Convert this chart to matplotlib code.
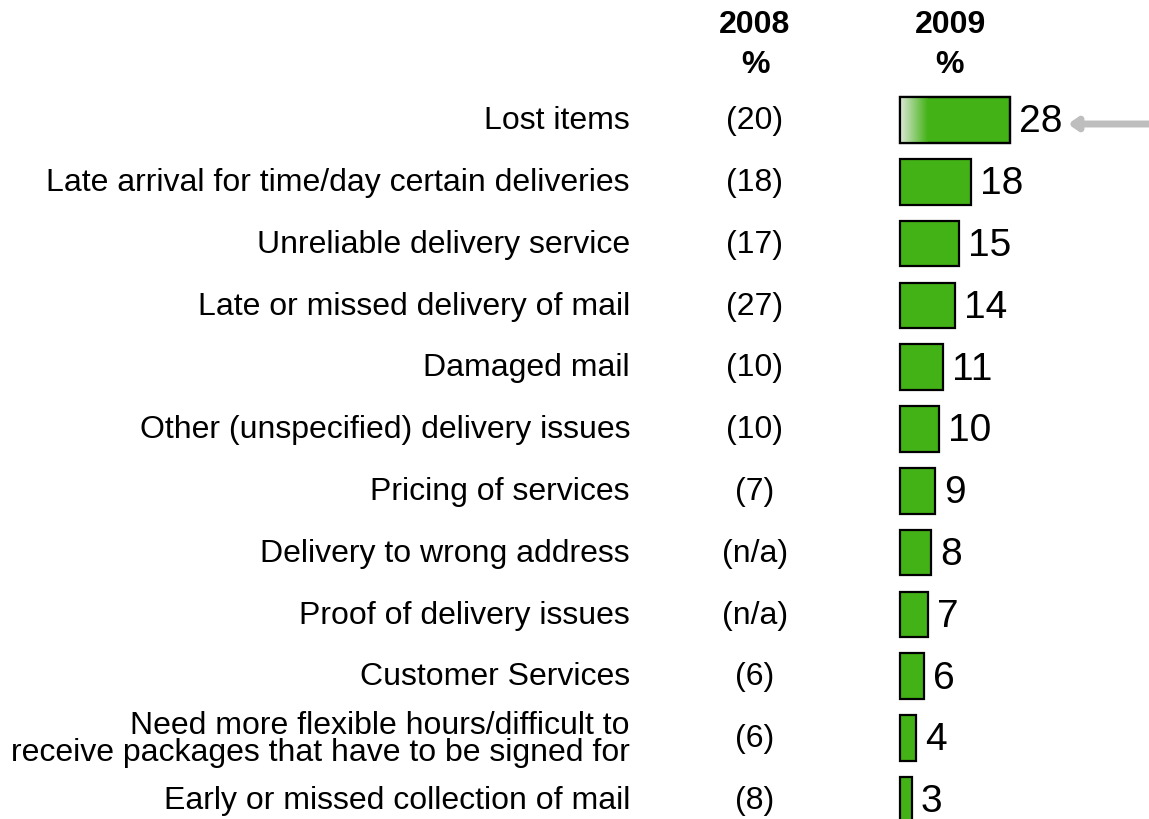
import matplotlib
matplotlib.use("Agg")
import matplotlib.pyplot as plt
import numpy as np
from matplotlib.colors import LinearSegmentedColormap

plt.rcParams['font.family'] = ['Liberation Sans', 'DejaVu Sans']

categories = [
    "Lost items",
    "Late arrival for time/day certain deliveries",
    "Unreliable delivery service",
    "Late or missed delivery of mail",
    "Damaged mail",
    "Other (unspecified) delivery issues",
    "Pricing of services",
    "Delivery to wrong address",
    "Proof of delivery issues",
    "Customer Services",
    "Need more flexible hours/difficult to\nreceive packages that have to be signed for",
    "Early or missed collection of mail",
]
values_2008 = ["(20)", "(18)", "(17)", "(27)", "(10)", "(10)", "(7)", "(n/a)", "(n/a)", "(6)", "(6)", "(8)"]
values_2009 = [28, 18, 15, 14, 11, 10, 9, 8, 7, 6, 4, 3]
headers = ["2008\n%", "2009\n%"]

W, H = 1149, 819
fig = plt.figure(figsize=(W / 100, H / 100), dpi=100)
ax = fig.add_axes([0, 0, 1, 1])
ax.axis('off')

pxu = 3.93      # pixels per unit
x0 = 900        # pixel of zero
y_first = 120
row = 61.8

green = '#43B216'
ypos = np.arange(len(categories))
bh = 0.74
ax.barh(ypos, values_2009, height=bh, color=green, edgecolor='black', linewidth=1.6, zorder=2)

# gradient on the first bar
cmap = LinearSegmentedColormap.from_list('g', ['#dde8d8', green])
grad = np.linspace(0, 1, 100).reshape(1, -1)
ax.imshow(grad, cmap=cmap, aspect='auto',
          extent=(0, 7.0, ypos[0] + bh / 2, ypos[0] - bh / 2), zorder=2.5)
ax.barh([ypos[0]], [values_2009[0]], height=bh, color='none', edgecolor='black', linewidth=1.6, zorder=3)
ax.set_xlim(-x0 / pxu, (W - x0) / pxu)
ax.set_ylim((H - y_first) / row, -y_first / row)

label_x = (630 - x0) / pxu
col08_x = (755 - x0) / pxu
col09_x = (950 - x0) / pxu
fs = 23

for i, (cat, v08, v09) in enumerate(zip(categories, values_2008, values_2009)):
    ax.text(label_x, i + 0.02, cat, ha='right', va='center', fontsize=fs,
            multialignment='right', linespacing=0.85)
    ax.text(col08_x, i + 0.02, v08, ha='center', va='center', fontsize=fs)
    ax.text(v09 + 2.3, i + 0.04, str(v09), ha='left', va='center', fontsize=28)

hdr_y = (45 - y_first) / row
ax.text(col08_x, hdr_y, headers[0], ha='center', va='center', fontsize=fs,
        fontweight='bold', linespacing=1.45)
ax.text(col09_x, hdr_y, headers[1], ha='center', va='center', fontsize=fs,
        fontweight='bold', linespacing=1.45)

# arrow pointing at the top bar
ay = (124 - y_first) / row
ax.annotate('', xy=((1068 - x0) / pxu, ay), xytext=((W + 5 - x0) / pxu, ay),
            arrowprops=dict(arrowstyle='-|>,head_length=0.5,head_width=0.35',
                            color='#BEBEBE', lw=5, shrinkA=0, shrinkB=0))

fig.savefig('out.png', dpi=100)
